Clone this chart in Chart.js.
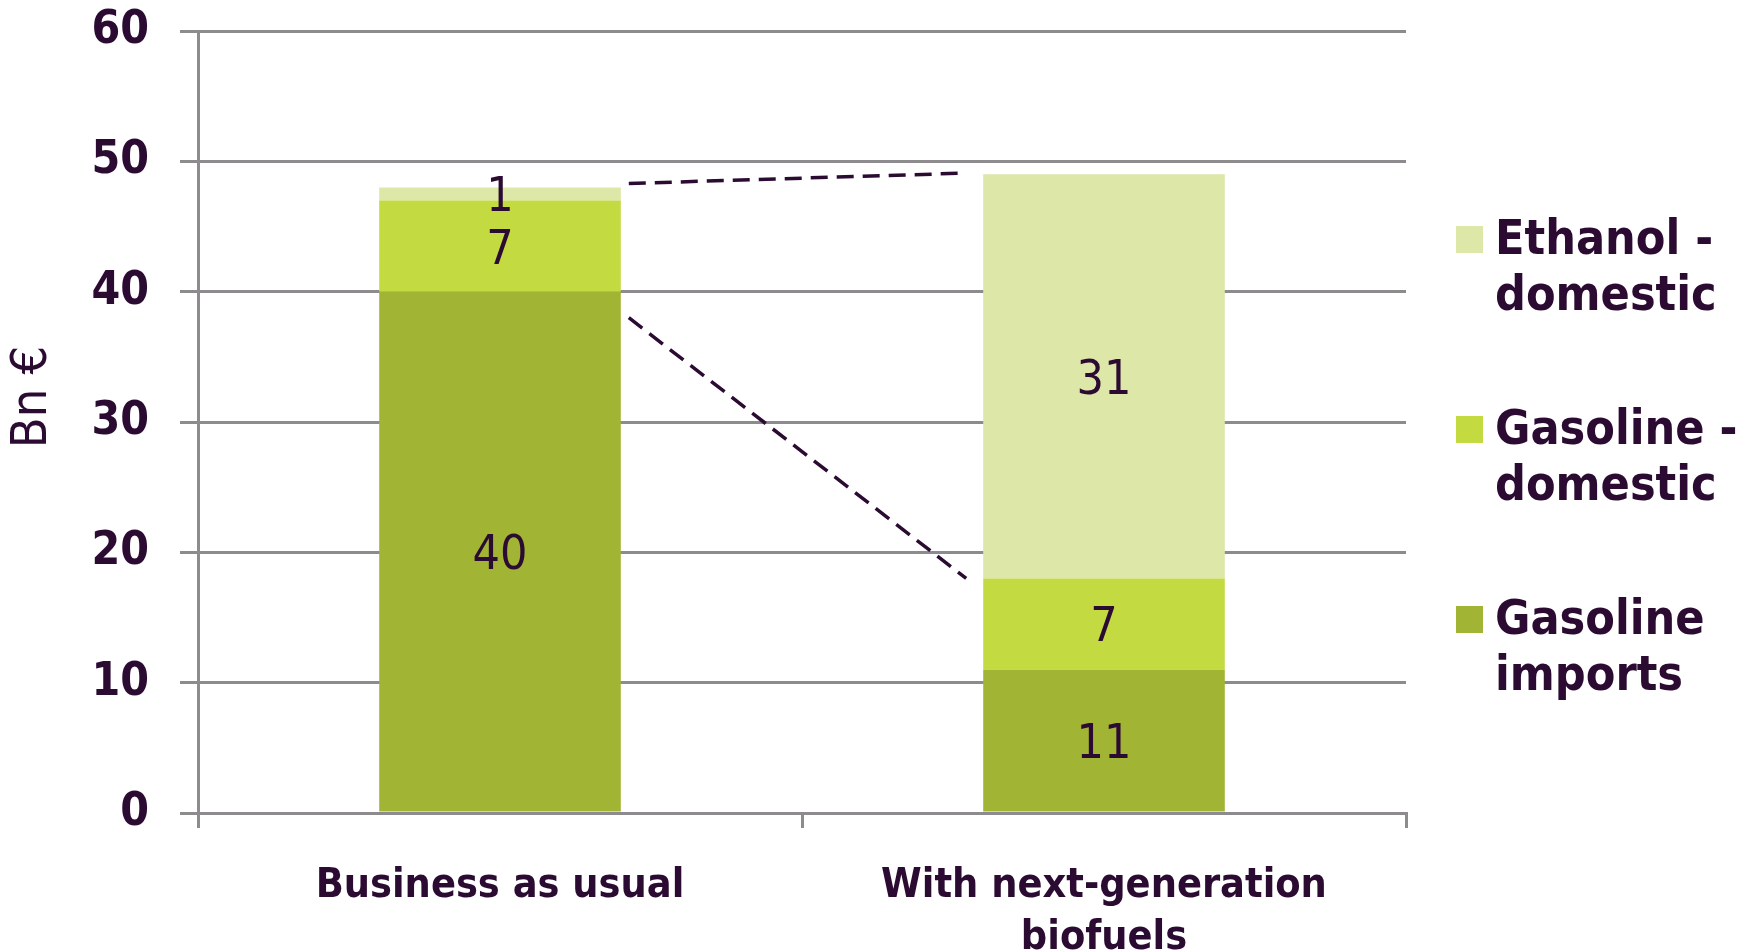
<!DOCTYPE html>
<html lang="en">
<head>
    <meta charset="UTF-8">
    <title>Fuel spending</title>
    <script src="https://cdn.jsdelivr.net/npm/chart.js"></script>
    <style>
        body {
            margin: 0;
            background: #ffffff;
        }
        canvas {
            display: block;
        }
    </style>
</head>
<body>
    <canvas id="fuelChart" width="1753" height="952"></canvas>

    <script>
        // scenario categories and stacked values (Bn €)
        const categories = ['Business as usual', ['With next-generation', 'biofuels']];
        const gasolineImports = [40, 11];
        const gasolineDomestic = [7, 7];
        const ethanolDomestic = [1, 31];
        const yTicks = [0, 10, 20, 30, 40, 50, 60];

        // dashed connectors between the bars: [from value, to value]
        const connectorLines = [[48.3, 49.1], [38, 18]];

        const legendLabels = [
            ['Ethanol -', 'domestic'],
            ['Gasoline -', 'domestic'],
            ['Gasoline', 'imports']
        ];

        const textColor = '#2b0b32';
        const gridColor = '#8e8b8e';
        const fontFamily = '"DejaVu Sans Condensed", "DejaVu Sans", sans-serif';

        // labels inside each bar segment
        const segmentLabels = {
            id: 'segmentLabels',
            afterDatasetsDraw(chart) {
                const ctx = chart.ctx;
                ctx.save();
                ctx.font = '48px ' + fontFamily;
                ctx.fillStyle = textColor;
                ctx.textAlign = 'center';
                ctx.textBaseline = 'middle';
                chart.data.datasets.forEach((ds, i) => {
                    chart.getDatasetMeta(i).data.forEach((bar, j) => {
                        const cy = (bar.y + bar.base) / 2;
                        ctx.fillText(String(ds.data[j]), bar.x, cy + 5);
                    });
                });
                ctx.restore();
            }
        };

        // dashed lines from the first bar to the second
        const connectors = {
            id: 'connectors',
            afterDatasetsDraw(chart) {
                const ctx = chart.ctx;
                const y = chart.scales.y;
                const bars = chart.getDatasetMeta(0).data;
                const x1 = bars[0].x + bars[0].width / 2 + 8;
                const x2 = bars[1].x - bars[1].width / 2 - 17;
                ctx.save();
                ctx.strokeStyle = textColor;
                ctx.lineWidth = 3.5;
                ctx.setLineDash([17, 9]);
                connectorLines.forEach(([a, b]) => {
                    ctx.beginPath();
                    ctx.moveTo(x1, y.getPixelForValue(a));
                    ctx.lineTo(x2, y.getPixelForValue(b));
                    ctx.stroke();
                });
                ctx.restore();
            }
        };

        // legend on the right and rotated y title
        const sideText = {
            id: 'sideText',
            afterDraw(chart) {
                const ctx = chart.ctx;
                const colors = chart.data.datasets.map(d => d.backgroundColor).reverse();
                ctx.save();
                ctx.textBaseline = 'middle';
                ctx.textAlign = 'left';
                ctx.font = 'bold 48px ' + fontFamily;
                legendLabels.forEach((lines, i) => {
                    const top = 240 + i * 190;
                    ctx.fillStyle = colors[i];
                    ctx.fillRect(1456, top - 14, 27, 27);
                    ctx.fillStyle = textColor;
                    lines.forEach((t, k) => ctx.fillText(t, 1495, top + k * 56 + 2));
                });

                ctx.translate(33, 397);
                ctx.rotate(-Math.PI / 2);
                ctx.textAlign = 'center';
                ctx.font = '50px ' + fontFamily;
                ctx.fillText('Bn €', 0, 0);
                ctx.restore();
            }
        };

        const ctx = document.getElementById('fuelChart').getContext('2d');
        new Chart(ctx, {
            type: 'bar',
            data: {
                labels: categories,
                datasets: [
                    { label: 'Gasoline imports', data: gasolineImports, backgroundColor: '#a2b434' },
                    { label: 'Gasoline - domestic', data: gasolineDomestic, backgroundColor: '#c3da41' },
                    { label: 'Ethanol - domestic', data: ethanolDomestic, backgroundColor: '#dce7a8' }
                ]
            },
            options: {
                responsive: false,
                animation: false,
                barPercentage: 0.4,
                categoryPercentage: 1.0,
                layout: { padding: { left: 0, right: 347, top: 31, bottom: 0 } },
                plugins: {
                    legend: { display: false },
                    tooltip: { enabled: false }
                },
                scales: {
                    x: {
                        stacked: true,
                        grid: {
                            offset: true,
                            drawOnChartArea: false,
                            drawTicks: true,
                            tickLength: 15,
                            color: gridColor,
                            lineWidth: 3
                        },
                        border: { color: gridColor, width: 3 },
                        ticks: {
                            color: textColor,
                            font: { family: fontFamily, size: 41, weight: 'bold', lineHeight: 1.28 },
                            padding: 32,
                            maxRotation: 0
                        },
                        afterFit(scale) { scale.height = 139; }
                    },
                    y: {
                        stacked: true,
                        min: 0,
                        max: 60,
                        afterBuildTicks(scale) {
                            scale.ticks = yTicks.map(v => ({ value: v }));
                        },
                        grid: {
                            color: gridColor,
                            lineWidth: 3,
                            tickLength: 18
                        },
                        border: { color: gridColor, width: 3 },
                        ticks: {
                            color: textColor,
                            font: { family: fontFamily, size: 46, weight: 'bold' },
                            padding: 31
                        },
                        afterFit(scale) {
                            scale.width = 198;
                            scale.paddingTop = 0;
                            scale.paddingBottom = 0;
                        }
                    }
                }
            },
            plugins: [segmentLabels, connectors, sideText]
        });
    </script>
</body>
</html>
